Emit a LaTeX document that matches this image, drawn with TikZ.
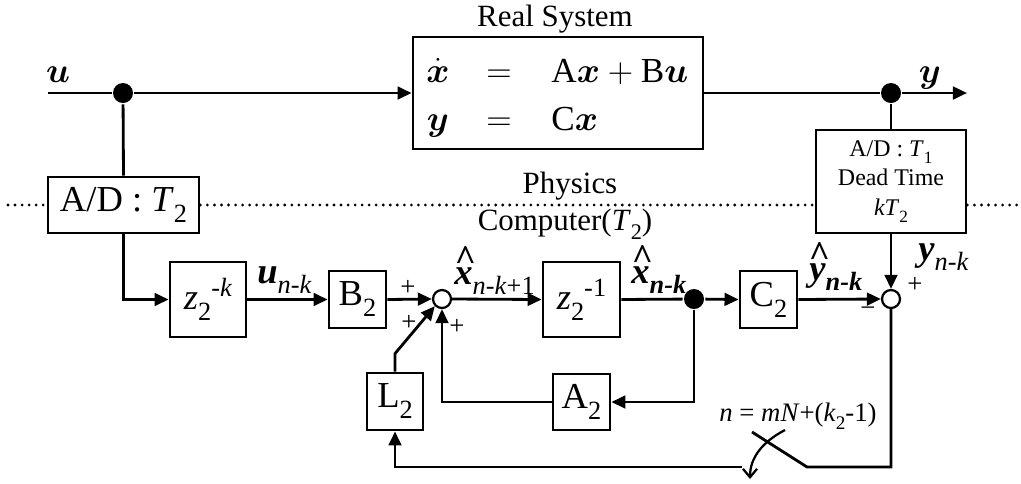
\RequirePackage{fix-cm}
\documentclass[tikz,border=0pt]{standalone}
\usepackage{amsmath}
\usepackage{fontspec}
\setmainfont{Liberation Serif}
\usetikzlibrary{arrows.meta, positioning, calc}

\def\px{0.025cm}
\makeatletter
\newcommand\lo[1]{\raisebox{-0.3em}{\fontsize{\fpeval{0.72*\f@size}}{0}\selectfont #1}}
\newcommand\hi[1]{\raisebox{0.36em}{\fontsize{\fpeval{0.72*\f@size}}{0}\selectfont #1}}
\makeatother
\newcommand\hatb[1]{\ooalign{\textbf{\textit{#1}}\cr
    \hidewidth\kern0.1em\raisebox{0.36em}{\bfseries\textasciicircum}\hidewidth\cr}}

\begin{document}
\begin{tikzpicture}[
    x=\px, y=-\px,
    line width=2pt,
    >={Triangle[length=10pt, width=9pt]},
    blk/.style={draw, line width=2pt, inner sep=0pt, align=center, font=\fontsize{26}{30}\selectfont},
    eq/.style={font=\fontsize{25}{30}\selectfont, inner sep=0pt},
    lab/.style={font=\fontsize{26}{30}\selectfont, inner sep=0pt},
    hdr/.style={font=\fontsize{22}{26}\selectfont, inner sep=0pt},
    sgn/.style={font=\fontsize{19}{20}\selectfont, inner sep=0pt},
    sumnode/.style={draw, circle, line width=1.6pt, minimum size=18*\px, inner sep=0pt},
    dotnode/.style={fill, circle, minimum size=20*\px, inner sep=0pt},
    sep/.style={line width=2.2pt, line cap=round, dash pattern=on 0pt off 5pt},
]
\useasboundingbox (0,0) rectangle (1021,483);

% ================================================================ physics: the plant
\node[hdr] (systitle) at (555,19) {Real System};
\node[blk, minimum width=290*\px, minimum height=112*\px] (sys) at (558,93) {};
\node[eq, anchor=base] (e1l) at (438,82) {$\dot{\boldsymbol{x}}$};
\node[eq, anchor=base] (e1m) at (499,82) {$=$};
\node[eq, anchor=base west] (e1r) at (550,82) {$\mathrm{A}\boldsymbol{x}+\mathrm{B}\boldsymbol{u}$};
\node[eq, anchor=base] (e2l) at (438,130) {$\boldsymbol{y}$};
\node[eq, anchor=base] (e2m) at (499,130) {$=$};
\node[eq, anchor=base west] (e2r) at (550,130) {$\mathrm{C}\boldsymbol{x}$};

\coordinate (uin) at (48,93);
\coordinate (yout) at (967,93);
\node[dotnode] (du) at (123,93) {};
\node[dotnode] (dy) at (891,93) {};
\node[eq, anchor=base] (ulab) at (58,82) {$\boldsymbol{u}$};
\node[eq, anchor=base] (ylab) at (930,82) {$\boldsymbol{y}$};

\node[blk, minimum width=151*\px, minimum height=56*\px] (adu) at (123.5,205)
    {A/D : \textit{T}\lo{2}};
\node[blk, minimum width=150*\px, minimum height=103*\px,
      font=\fontsize{17}{21}\selectfont] (ady) at (891,181.5)
    {A/D : \textit{T}\lo{1}\\Dead Time\\\textit{kT}\lo{2}};

\draw (uin) -- (du);
\draw[->] (du) -- (sys.west);
\draw (sys.east) -- (dy);
\draw[->] (dy) -- (yout);
\draw (du) -- (adu.north);
\draw (dy) -- (ady.north);

% ================================================================ the border
\draw[sep] (8,205) -- (adu.west);
\draw[sep] (adu.east) -- (adu.east -| ady.west);
\draw[sep] (adu.east -| ady.east) -- (1018,205);
\node[hdr] (phys) at (570,186) {Physics};
\node[hdr] (comp) at (565,224) {Computer(\textit{T}\lo{2})};

% ================================================================ computer: the observer
\node[blk, minimum width=76*\px, minimum height=75*\px] (zk) at (208,299.5)
    {\textit{z}\lo{2}\hi{-\textit{k}}};
\node[blk, minimum width=57*\px, minimum height=57*\px] (bb) at (357.5,299.5) {B\lo{2}};
\node[sumnode] (s1) at (442,299) {};
\node[blk, minimum width=77*\px, minimum height=75*\px] (zo) at (581.5,299.5)
    {\textit{z}\lo{2}\hi{-1}};
\node[dotnode] (dx) at (694,299) {};
\node[blk, minimum width=57*\px, minimum height=57*\px] (cc) at (768.5,299.5) {C\lo{2}};
\node[sumnode] (s2) at (891,299) {};
\node[blk, minimum width=56*\px, minimum height=57*\px] (ll) at (395,401.5) {L\lo{2}};
\node[blk, minimum width=57*\px, minimum height=56*\px] (aa) at (581.5,402) {A\lo{2}};

% signal names
\node[lab, anchor=base west] (uk) at (256,283)
    {\textbf{\textit{u}}\lo{\textit{n-k}}};
\node[lab, anchor=base west] (xk1) at (453,284)
    {\hatb{x}\lo{\textit{n-k}+1}};
\node[lab, anchor=base west] (xk) at (630,283)
    {\hatb{x}\lo{\textbf{\textit{n-k}}}};
\node[lab, anchor=base west] (yhk) at (808,280)
    {\hatb{y}\lo{\textbf{\textit{n-k}}}};
\node[lab, anchor=base west] (yk) at (917,260)
    {\textbf{\textit{y}}\lo{\textit{n-k}}};

% signs at the sums
\foreach \p/\s in {{(408,288)}/+, {(409,323)}/+, {(457,327)}/+, {(915,285)}/+, {(868,312)}/−}{
    \node[sgn] at \p {\s};
}

\draw[->] (adu.south) |- (zk.west);
\draw[->] (zk.east) -- (bb.west);
\draw[->] (bb.east) -- (s1.west);
\draw[->] (s1.east) -- (zo.west);
\draw (zo.east) -- (dx);
\draw[->] (dx) -- (cc.west);
\draw[->] (cc.east) -- (s2.west);
\draw[->] (ady.south) -- (s2.north);
\draw[->] (dx) |- (aa.east);
\draw[->] (aa.west) -| (s1.south);
\draw[->] (ll.north) -- ++(0,-18) -- (s1.south west);

% ================================================================ the sampling switch
\coordinate (swr) at (807,467);
\coordinate (swt) at (752,432);
\coordinate (swl) at (742,467);
\draw (s2.south) |- (swr) -- (swt);
\draw[->] (swl) -| (ll.south);
\draw[line width=1.6pt, -{Straight Barb[length=6pt, width=10pt]}]
    (785,430) .. controls (762,442) and (750,458) .. (750,479);
\node[font=\fontsize{19}{22}\selectfont, inner sep=0pt, anchor=base] (swlab) at (798,421)
    {\textit{n} = \textit{mN}+(\textit{k}\lo{2}-1)};
\end{tikzpicture}
\end{document}
